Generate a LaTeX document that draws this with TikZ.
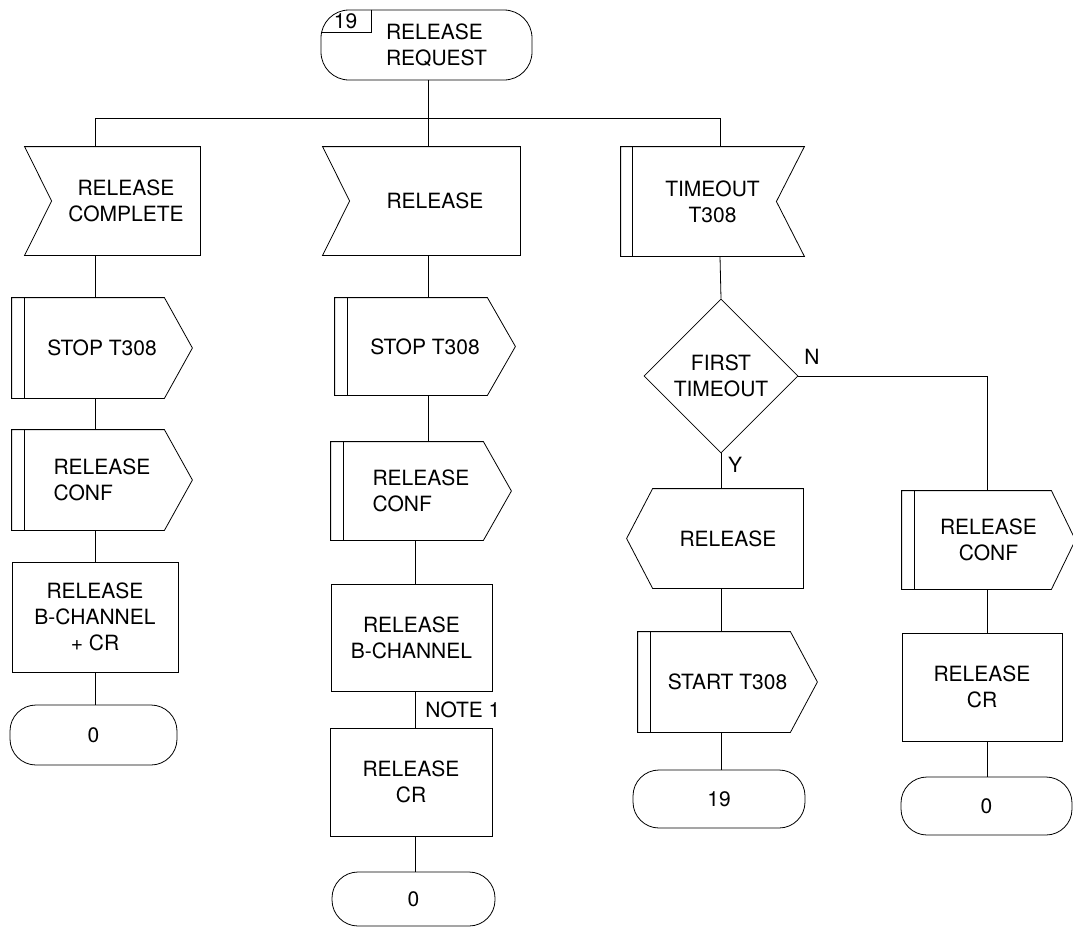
\documentclass[tikz,border=0pt]{standalone}
\usepackage{fontspec}
\setmainfont{TeX Gyre Heros}
\usetikzlibrary{shapes.geometric,calc}

% outlines drawn round a named body node
\newcommand{\insig}[1]{\draw ([xshift=-27pt]#1.north west) -- (#1.north east) -- (#1.south east) -- ([xshift=-27pt]#1.south west) -- (#1.west) -- cycle;}
\newcommand{\outsig}[2][28pt]{\draw (#2.north west) -- ([xshift=-#1]#2.north east) -- (#2.east) -- ([xshift=-#1]#2.south east) -- (#2.south west) -- cycle;}
\newcommand{\tmrout}[2][28pt]{\outsig[#1]{#2}\draw ([xshift=13pt]#2.north west) -- ([xshift=13pt]#2.south west);}
\newcommand{\tmrin}[1]{\draw (#1.north west) -- (#1.north east) -- ([xshift=-28pt]#1.east) -- (#1.south east) -- (#1.south west) -- cycle;\draw ([xshift=12pt]#1.north west) -- ([xshift=12pt]#1.south west);}
\newcommand{\usrout}[1]{\draw (#1.north west) -- (#1.north east) -- (#1.south east) -- (#1.south west) -- ([xshift=-26pt]#1.west) -- cycle;}

\begin{document}
\begin{tikzpicture}[
  x=1pt, y=-1pt,
  line width=0.8pt,
  body/.style={rectangle,inner sep=0pt,align=center,font=\fontsize{21}{26}\selectfont},
  task/.style={body,draw},
  state/.style={body,draw,rounded corners=26pt},
  decision/.style={diamond,draw,inner sep=0pt,align=center,minimum width=154pt,minimum height=154pt,font=\fontsize{21}{26}\selectfont},
  lbl/.style={inner sep=0pt,font=\fontsize{21}{26}\selectfont},
]
\useasboundingbox (0,0) rectangle (1073,927);

% start state
\node[state,rounded corners=28pt,minimum width=211pt,minimum height=70pt,align=left] (req) at (426.5,45) {\hspace*{20pt}RELEASE\\\hspace*{20pt}REQUEST};
\draw ($(req.north west)+(51,0)$) |- ($(req.north west)+(1,23)$);
\node[lbl] (num) at ($(req.north west)+(25,12)$) {19};

\coordinate (bus1) at (95,118);
\coordinate (bus2) at (428,118);
\coordinate (bus3) at (720,118);
\coordinate (c2) at (415,560);
\coordinate (c4) at (987,376);

% column 1
\node[body,minimum width=148pt,minimum height=108pt] (rc) at (126,201) {RELEASE\\COMPLETE};
\node[body,minimum width=180pt,minimum height=100pt] (stopA) at (102,348) {STOP T308};
\node[body,minimum width=180pt,minimum height=100pt,align=left] (confA) at (102,480) {RELEASE\\CONF};
\node[task,minimum width=166pt,minimum height=110pt] (relA) at (95,617) {RELEASE\\B-CHANNEL\\+ CR};
\node[state,minimum width=167pt,minimum height=60pt] (stA) at (93.5,735) {0};
\insig{rc}
\tmrout{stopA}
\tmrout{confA}

% column 2
\node[body,minimum width=170pt,minimum height=108pt] (rel2) at (435,201) {RELEASE};
\node[body,minimum width=180pt,minimum height=97pt] (stop2) at (425,346.5) {STOP T308};
\node[body,minimum width=180pt,minimum height=98pt,align=left] (conf2) at (421,491) {RELEASE\\CONF};
\node[task,minimum width=161pt,minimum height=107pt] (bch2) at (411.5,637.5) {RELEASE\\B-CHANNEL};
\node[task,minimum width=162pt,minimum height=108pt] (cr2) at (411,782) {RELEASE\\CR};
\node[state,minimum width=163pt,minimum height=54pt] (st2) at (413.5,899) {0};
\node[lbl,anchor=west] (note1) at (425,710) {NOTE 1};
\insig{rel2}
\tmrout{stop2}
\tmrout{conf2}

% column 3
\node[body,minimum width=183pt,minimum height=109pt] (tmo) at (712.5,201.5) {TIMEOUT\\T308};
\node[decision] (dec) at (721,376) {FIRST\\TIMEOUT};
\node[body,minimum width=150pt,minimum height=99pt] (rel3) at (728,538.5) {RELEASE};
\node[body,minimum width=179pt,minimum height=100pt] (start3) at (727.5,682) {START T308};
\node[state,minimum width=172pt,minimum height=58pt] (st3) at (719,799) {19};
\node[lbl] (lblN) at (812,357) {N};
\node[lbl] (lblY) at (735,465) {Y};
\tmrin{tmo}
\usrout{rel3}
\tmrout[27pt]{start3}

% column 4
\node[body,minimum width=173pt,minimum height=98pt] (conf4) at (988.5,540) {RELEASE\\CONF};
\node[task,minimum width=160pt,minimum height=108pt] (cr4) at (982,687) {RELEASE\\CR};
\node[state,minimum width=171pt,minimum height=58pt] (st4) at (986.5,806) {0};
\tmrout[24pt]{conf4}

% connectors
\draw (req.south -| bus2) -- (bus2);
\draw (bus1) -- (bus3);
\draw (bus1) -- (rc.north -| bus1);
\draw (rc.south -| bus1) -- (stopA.north -| bus1);
\draw (stopA.south -| bus1) -- (confA.north -| bus1);
\draw (confA.south -| bus1) -- (relA.north -| bus1);
\draw (relA.south -| bus1) -- (stA.north -| bus1);

\draw (bus2) -- (rel2.north -| bus2);
\draw (rel2.south -| bus2) -- (stop2.north -| bus2);
\draw (stop2.south -| bus2) -- (conf2.north -| bus2);
\draw (conf2.south -| c2) -- (bch2.north -| c2);
\draw (bch2.south -| c2) -- (cr2.north -| c2);
\draw (cr2.south -| c2) -- (st2.north -| c2);

\draw (bus3) -- (tmo.north -| bus3);
\draw (tmo.south -| bus3) -- (dec.north);
\draw (dec.south) -- (rel3.north -| dec.south);
\draw (rel3.south -| dec.south) -- (start3.north -| dec.south);
\draw (start3.south -| dec.south) -- (st3.north -| dec.south);

\draw (dec.east) -- (c4) -- (conf4.north -| c4);
\draw (conf4.south -| c4) -- (cr4.north -| c4);
\draw (cr4.south -| c4) -- (st4.north -| c4);
\end{tikzpicture}
\end{document}
